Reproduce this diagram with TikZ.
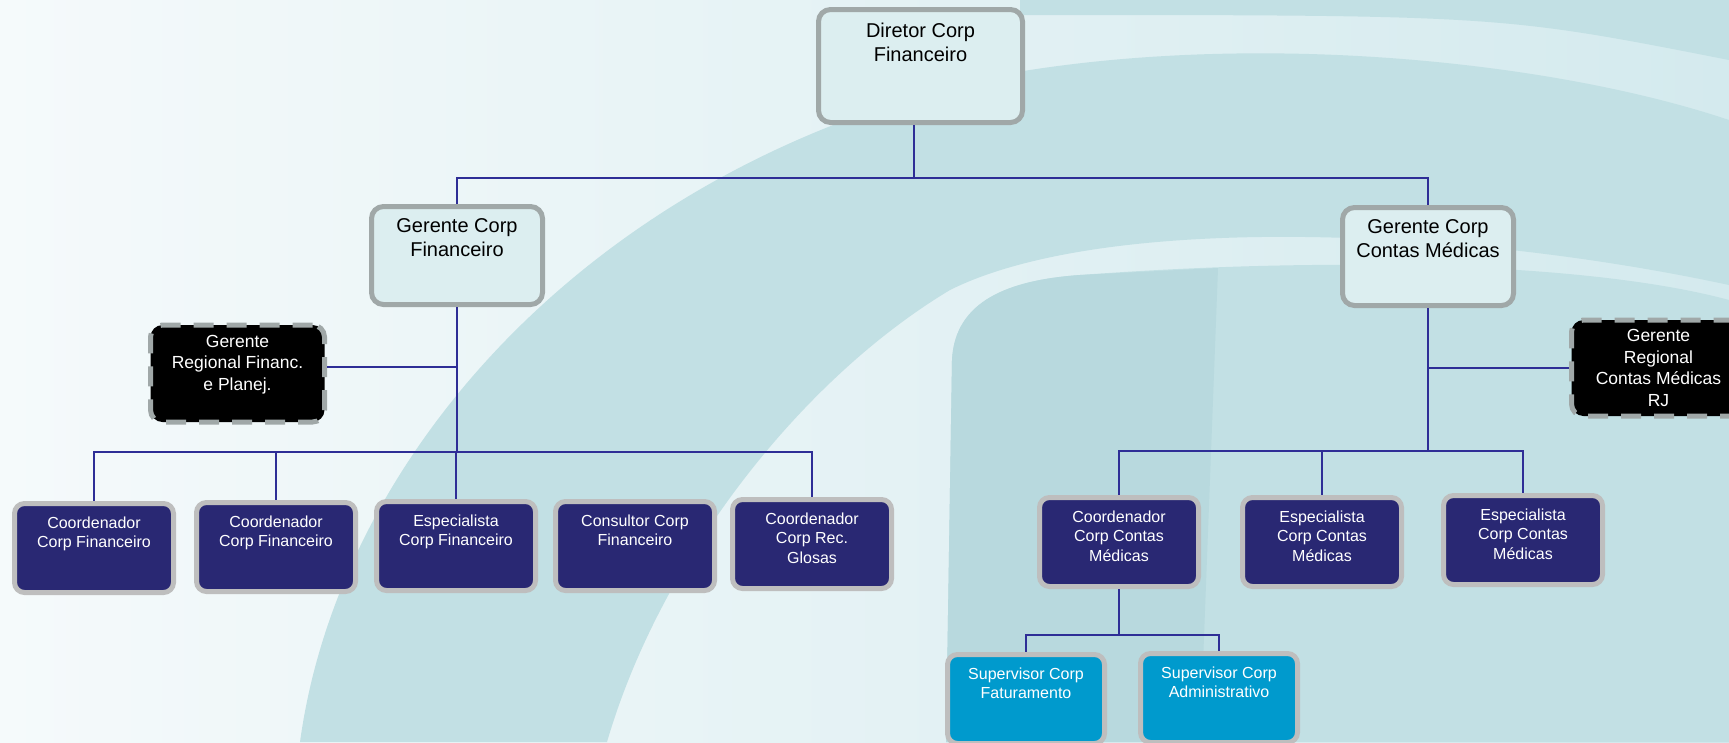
\documentclass[tikz,border=0pt]{standalone}
\usepackage{fontspec}
\setmainfont{Liberation Sans}

\definecolor{navy}{RGB}{41,40,115}
\definecolor{sky}{RGB}{0,154,205}
\definecolor{pale}{RGB}{220,238,240}
\definecolor{rim}{RGB}{160,168,168}
\definecolor{rowrim}{RGB}{190,190,190}
\definecolor{wire}{RGB}{46,46,150}
\definecolor{bgwhite}{RGB}{245,250,251}
\definecolor{bglight}{RGB}{212,234,238}
\definecolor{swoosh}{RGB}{194,224,228}
\definecolor{swooshdark}{RGB}{184,217,222}

\newcommand{\topfont}{\fontsize{20}{24}\selectfont}
\newcommand{\rowfont}{\fontsize{16}{19.5}\selectfont}
\newcommand{\regfont}{\fontsize{17.5}{21.5}\selectfont}
\newcommand{\boxlines}[1]{\begin{tabular}[t]{@{}c@{}}#1\end{tabular}}

\tikzset{
  every node/.style={inner sep=0pt},
  topbox/.style={draw=rim, line width=5pt, fill=pale, rounded corners=12pt, font=\topfont,
    minimum width=171pt, text height=25.5pt, text depth=72.5pt},
  regbox/.style={draw=rim, line width=5pt, dash pattern=on 20pt off 13pt, fill=black, text=white,
    rounded corners=12pt, font=\regfont, minimum width=174pt, text height=22pt, text depth=75pt},
  rowbox/.style={draw=rowrim, line width=5pt, fill=navy, text=white, rounded corners=10pt,
    font=\rowfont, minimum width=159pt, text height=24.5pt, text depth=64.5pt},
  supbox/.style={rowbox, fill=sky, minimum width=157pt},
  link/.style={draw=wire, line width=2pt},
  bus/.style={link, line width=2.6pt, line cap=rect},
}

\begin{document}
\begin{tikzpicture}[x=1pt, y=-1pt]
\useasboundingbox (0,0) rectangle (1729,742);

\begin{scope}
\clip (0,0) rectangle (1729,742);
\shade[left color=bgwhite, right color=bglight] (0,0) rectangle (1729,742);
% outer swoosh
\fill[swoosh] (300,742) .. controls (340,450) and (600,160) .. (1000,75)
  .. controls (1250,30) and (1550,60) .. (1729,120) -- (1729,285)
  .. controls (1450,225) and (1100,215) .. (950,290)
  .. controls (800,380) and (660,560) .. (607,742) -- cycle;
\fill[swoosh] (1020,0) -- (1729,0) -- (1729,60) .. controls (1500,15) .. (1020,15) -- cycle;
% inner swoosh
\fill[swoosh] (946,742) -- (952,360) .. controls (955,300) and (1010,280) .. (1080,275)
  .. controls (1350,255) and (1600,265) .. (1729,300) -- (1729,742) -- cycle;
\fill[swooshdark] (946,742) -- (952,360) .. controls (955,300) and (1010,280) .. (1080,275)
  -- (1218,268) -- (1200,742) -- cycle;
\end{scope}

\node[topbox, minimum width=204pt, text height=27.5pt, text depth=85.5pt] (dir) at (920.5,66) {\boxlines{Diretor Corp\\Financeiro}};
\node[topbox] (gfin) at (457,255.5) {\boxlines{Gerente Corp\\Financeiro}};
\node[topbox] (gcm) at (1428,256.5) {\boxlines{Gerente Corp\\Contas Médicas}};

\node[regbox] (rfin) at (237.5,373.5) {\boxlines{Gerente\\Regional Financ.\\e Planej.}};
\node[regbox, text height=21.5pt, text depth=74.5pt] (rcm) at (1658.5,368) {\boxlines{Gerente\\Regional\\Contas Médicas\\RJ}};

\node[rowbox] (b1) at (94,548) {\boxlines{Coordenador\\Corp Financeiro}};
\node[rowbox] (b2) at (276,547) {\boxlines{Coordenador\\Corp Financeiro}};
\node[rowbox] (b3) at (456,546) {\boxlines{Especialista\\Corp Financeiro}};
\node[rowbox] (b4) at (635,546) {\boxlines{Consultor Corp\\Financeiro}};
\node[rowbox] (b5) at (812,544) {\boxlines{Coordenador\\Corp Rec.\\Glosas}};

\node[rowbox] (c1) at (1119,542) {\boxlines{Coordenador\\Corp Contas\\Médicas}};
\node[rowbox] (c2) at (1322,542) {\boxlines{Especialista\\Corp Contas\\Médicas}};
\node[rowbox] (c3) at (1523,540) {\boxlines{Especialista\\Corp Contas\\Médicas}};

\node[supbox] (s1) at (1026,699) {\boxlines{Supervisor Corp\\Faturamento}};
\node[supbox] (s2) at (1219,698) {\boxlines{Supervisor Corp\\Administrativo}};

\coordinate (tb) at (0,178);
\coordinate (lb) at (0,452);
\coordinate (rb) at (0,451);
\coordinate (sb) at (0,635);

\draw[link] ([xshift=-7pt]dir.south) -- ([xshift=-7pt]dir.south |- tb);
\draw[bus] (gfin.north |- tb) -- (gcm.north |- tb);
\draw[link] (gfin.north |- tb) -- (gfin.north);
\draw[link] (gcm.north |- tb) -- (gcm.north);

\draw[link] (gfin.south) -- (gfin.south |- lb);
\draw[link] ([yshift=6.5pt]rfin.east) -- ([yshift=6.5pt]rfin.east -| gfin.south);
\draw[bus] (b1.north |- lb) -- (b5.north |- lb);
\foreach \n in {b1,b2,b3,b5}
  \draw[link] (\n.north |- lb) -- (\n.north);

\draw[link] (gcm.south) -- (gcm.south |- rb);
\draw[link] (rcm.west) -- (rcm.west -| gcm.south);
\draw[bus] (c1.north |- rb) -- (c3.north |- rb);
\foreach \n in {c1,c2,c3}
  \draw[link] (\n.north |- rb) -- (\n.north);

\draw[link] (c1.south) -- (c1.south |- sb);
\draw[bus] (s1.north |- sb) -- (s2.north |- sb);
\draw[link] (s1.north |- sb) -- (s1.north);
\draw[link] (s2.north |- sb) -- (s2.north);

\end{tikzpicture}
\end{document}
